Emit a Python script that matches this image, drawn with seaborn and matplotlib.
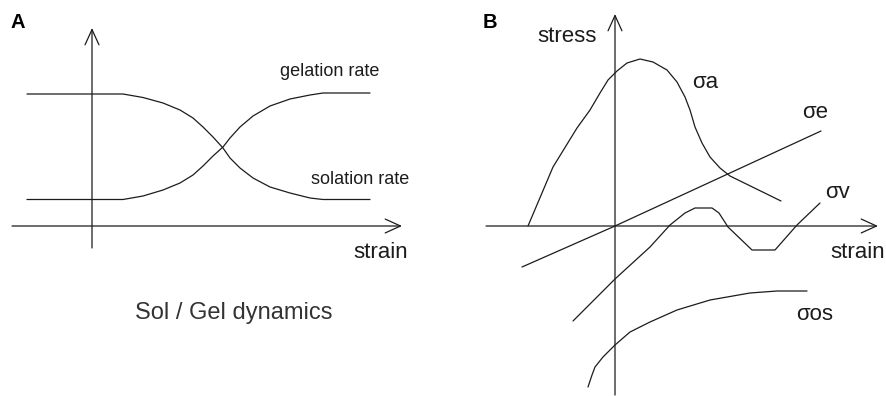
import numpy as np
import matplotlib
matplotlib.use("Agg")
import matplotlib.pyplot as plt
import seaborn as sns

sns.set_theme(style="white")
plt.rcParams["font.family"] = ["Liberation Sans", "DejaVu Sans"]

INK = "#1c1c1c"
LW = 0.9

# ---------------- Panel A: sol / gel rates versus strain ----------------
gel_strain = [-6.5, 3.1, 5.1, 7.1, 8.8, 10.1, 11.1, 12.1, 13.1, 13.8, 14.8,
              16.1, 17.8, 19.8, 21.8, 23.1, 27.8]
gelation_rate = [2.65, 2.65, 3.0, 3.6, 4.3, 5.1, 6.0, 7.0, 7.9, 8.8, 9.9,
                 11.0, 12.0, 12.7, 13.1, 13.3, 13.3]
solation_rate = [13.2, 13.2, 12.85, 12.3, 11.6, 10.8, 9.9, 8.9, 7.8, 6.8, 5.8,
                 4.8, 3.9, 3.3, 2.8, 2.65, 2.65]

# axis extents of panel A (from, to)
a_xaxis = (-8.0, 31.0)
a_yaxis = (-2.2, 19.8)

# ---------------- Panel B: stress components versus strain ----------------
sa_strain = [-8.7, -6.2, -3.8, -2.5, -1.5, -0.7, 0.2, 1.2, 2.5, 3.8, 5.2,
             6.2, 7.0, 7.5, 8.0, 8.7, 9.5, 10.5, 11.5, 16.6]
sigma_a = [0.0, 5.9, 9.8, 11.6, 13.3, 14.6, 15.5, 16.3, 16.7, 16.4, 15.6,
           14.4, 12.9, 11.6, 9.9, 8.3, 6.9, 5.8, 5.0, 2.5]

se_strain = [-9.3, 0.0, 20.6]
sigma_e = [-4.1, 0.0, 9.5]

sv_strain = [-4.2, 0.0, 3.5, 5.5, 7.0, 8.0, 9.7, 10.4, 11.3, 13.7, 16.0, 18.2, 20.5]
sigma_v = [-9.5, -5.3, -2.1, 0.1, 1.3, 1.8, 1.8, 1.3, -0.1, -2.4, -2.4, 0.1, 2.3]

sos_strain = [-2.7, -2.3, -2.0, -1.2, 0.0, 1.5, 3.5, 6.2, 9.5, 13.5, 16.2, 19.2]
sigma_os = [-16.1, -14.9, -14.1, -13.1, -11.9, -10.6, -9.6, -8.4, -7.4, -6.7, -6.5, -6.5]

b_xaxis = (-12.9, 26.3)
b_yaxis = (-16.9, 21.2)

fig = plt.figure(figsize=(8.86, 3.96), dpi=100)
fig.patch.set_facecolor("white")
ax_a = fig.add_axes([0.0, 0.0, 0.5, 1.0])
ax_b = fig.add_axes([0.5, 0.0, 0.5, 1.0])

ax_a.set_xlim(-9.2, 35.1)
ax_a.set_ylim(-17.0, 22.6)
ax_b.set_xlim(-17.2, 27.1)
ax_b.set_ylim(-17.0, 22.6)


def draw_axes(ax, xr, yr):
    arrow = dict(arrowstyle="->,head_length=1.1,head_width=0.5",
                 color=INK, lw=LW, shrinkA=0, shrinkB=0, mutation_scale=10)
    ax.annotate("", xy=(xr[1], 0), xytext=(xr[0], 0), arrowprops=arrow)
    ax.annotate("", xy=(0, yr[1]), xytext=(0, yr[0]), arrowprops=arrow)


def curve(ax, x, y):
    sns.lineplot(x=x, y=y, sort=False, estimator=None, color=INK,
                 linewidth=LW, ax=ax, legend=False)


for ax in (ax_a, ax_b):
    ax.axis("off")

# panel A
draw_axes(ax_a, a_xaxis, a_yaxis)
curve(ax_a, gel_strain, gelation_rate)
curve(ax_a, gel_strain, solation_rate)
ax_a.text(-7.4, 20.4, "A", fontsize=14.5, fontweight="bold", color="black",
          ha="center", va="center")
ax_a.text(23.8, 15.5, "gelation rate", fontsize=13, color=INK, ha="center", va="center")
ax_a.text(26.8, 4.7, "solation rate", fontsize=13, color=INK, ha="center", va="center")
ax_a.text(28.9, -2.6, "strain", fontsize=16, color=INK, ha="center", va="center")
ax_a.text(14.2, -8.7, "Sol / Gel dynamics", fontsize=17, color="#333333",
          ha="center", va="center")

# panel B
draw_axes(ax_b, b_xaxis, b_yaxis)
curve(ax_b, sa_strain, sigma_a)
curve(ax_b, se_strain, sigma_e)
curve(ax_b, sv_strain, sigma_v)
curve(ax_b, sos_strain, sigma_os)
ax_b.text(-12.5, 20.4, "B", fontsize=14.5, fontweight="bold", color="black",
          ha="center", va="center")
ax_b.text(-4.8, 19.0, "stress", fontsize=16, color=INK, ha="center", va="center")
ax_b.text(21.5, -2.7, "strain", fontsize=16, color=INK, ha="left", va="center")
ax_b.text(9.0, 14.4, "σa", fontsize=16, color=INK, ha="center", va="center")
ax_b.text(20.0, 11.3, "σe", fontsize=16, color=INK, ha="center", va="center")
ax_b.text(22.2, 3.4, "σv", fontsize=16, color=INK, ha="center", va="center")
ax_b.text(20.0, -8.9, "σos", fontsize=16, color=INK, ha="center", va="center")

fig.savefig("out.png", dpi=100, facecolor="white")
